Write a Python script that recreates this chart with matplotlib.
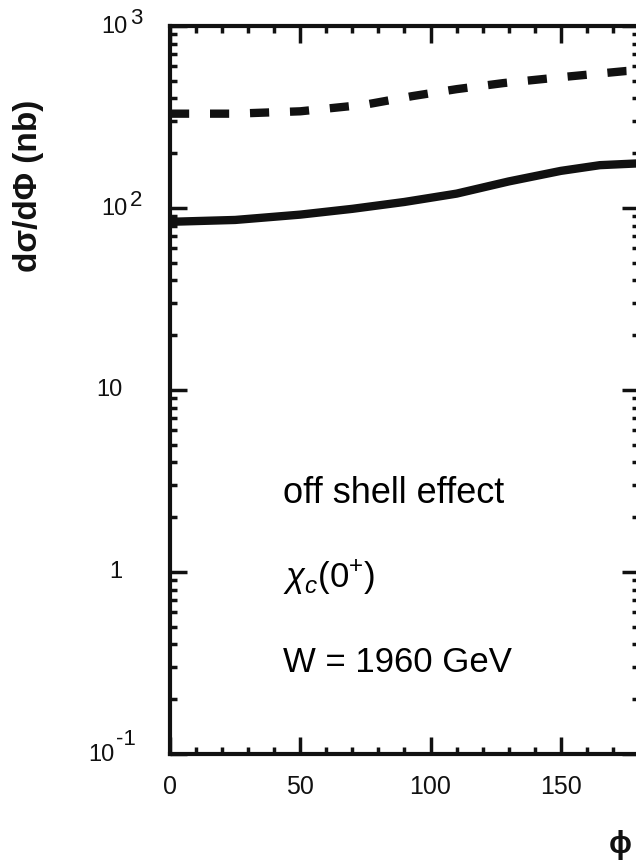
import matplotlib
matplotlib.use("Agg")
import matplotlib.pyplot as plt
from matplotlib.ticker import FixedLocator, LogLocator, NullFormatter, MultipleLocator
from matplotlib.transforms import offset_copy

plt.rcParams['font.family'] = ['Liberation Sans', 'DejaVu Sans']
plt.rcParams['mathtext.fontset'] = 'custom'
plt.rcParams['mathtext.rm'] = 'Liberation Sans'
plt.rcParams['mathtext.it'] = 'Liberation Sans:italic'

# phi in degrees, cross sections in nb
phi = [0, 25, 50, 70, 90, 110, 130, 150, 165, 180]
on_shell = [84, 86, 92, 99, 108, 120, 140, 160, 172, 176]
phi_d = [0, 25, 50, 75, 93, 110, 128, 151, 175, 180]
off_shell = [330, 330, 340, 370, 412, 450, 486, 525, 566, 570]

ytick_vals = [0.1, 1, 10, 100, 1000]
ytick_exps = ['-1', None, None, '2', '3']
ytick_plain = [None, '1', '10', None, None]

fig = plt.figure(figsize=(6.36, 8.65), dpi=100)
ax = fig.add_axes([0.2673, 0.1283, 0.7374, 0.8416])

ax.plot(phi, on_shell, color='#111111', lw=6, solid_capstyle='butt')
ax.plot(phi_d, off_shell, color='#111111', lw=6, dashes=(2.3, 2.5))

ax.set_yscale('log')
ax.set_xlim(0, 180)
ax.set_ylim(0.1, 1000)

ax.yaxis.set_major_locator(FixedLocator(ytick_vals))
ax.yaxis.set_minor_locator(LogLocator(base=10, subs=range(2, 10)))
ax.yaxis.set_minor_formatter(NullFormatter())
ax.set_yticklabels([])
ax.xaxis.set_major_locator(MultipleLocator(50))
ax.xaxis.set_minor_locator(MultipleLocator(10))

ax.tick_params(which='both', direction='in', top=True, right=True, width=2.5, colors='#111111')
ax.tick_params(which='major', length=12)
ax.tick_params(which='minor', length=5)
ax.tick_params(axis='x', labelsize=18, pad=15)
for s in ax.spines.values():
    s.set_linewidth(3)
    s.set_color('#111111')

# decade labels: plain numbers, or "10" with a raised exponent of nearly full size
ytrans = ax.get_yaxis_transform()
for v, plain, ex in zip(ytick_vals, ytick_plain, ytick_exps):
    if plain is not None:
        ax.text(-0.102, v, plain, transform=ytrans, ha='right', va='center',
                fontsize=17, color='#111111')
        continue
    if ex == '-1':
        xb, up = -0.119, 15
    else:
        xb, up = -0.090, 8
    ax.text(xb, v, '10', transform=offset_copy(ytrans, fig=fig, y=-1, units='dots'),
            ha='right', va='center', fontsize=17, color='#111111')
    ax.text(xb + 0.004, v, ex, transform=offset_copy(ytrans, fig=fig, y=up, units='dots'),
            ha='left', va='center', fontsize=16, color='#111111')

fig.text(29 / 636, 1 - 186 / 865, 'dσ/dΦ (nb)', rotation=90, fontsize=24, fontweight='bold',
         ha='center', va='center', color='#111111')
fig.text(620 / 636, 1 - 845 / 865, 'ϕ', fontsize=22, fontweight='bold', ha='center', va='center',
         color='#111111')

ax.text(0.241, 0.345, 'off shell effect', transform=ax.transAxes, fontsize=26, va='baseline')
ax.text(0.241, 0.228, r'$\chi_c(0^{+})$', transform=ax.transAxes, fontsize=25, va='baseline')
ax.text(0.241, 0.113, 'W = 1960 GeV', transform=ax.transAxes, fontsize=25, va='baseline')

fig.savefig('out.png', dpi=100)
